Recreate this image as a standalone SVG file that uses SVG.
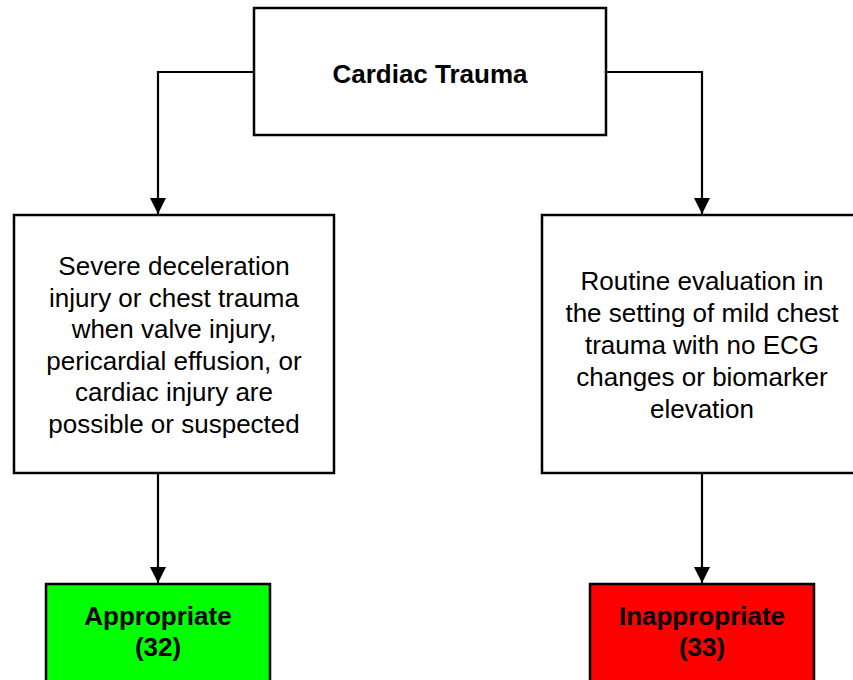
<svg xmlns="http://www.w3.org/2000/svg" width="853" height="680" viewBox="0 0 853 680">
  <defs>
    <style>
      .box { fill: #ffffff; stroke: #000000; stroke-width: 2.5; }
      .ok { fill: #00ff00; stroke: #000000; stroke-width: 2.5; }
      .no { fill: #ff0000; stroke: #000000; stroke-width: 2.5; }
      .wire { fill: none; stroke: #000000; stroke-width: 2.2; }
      .txt { font-family: "Liberation Sans", Arial, sans-serif; font-size: 26px; fill: #000000; text-anchor: middle; }
      .bold { font-weight: bold; }
    </style>
    <marker id="arrow" viewBox="0 0 16 16" refX="16" refY="8" markerWidth="16" markerHeight="16" markerUnits="userSpaceOnUse" orient="auto">
      <path d="M0,0 L16,8 L0,16 Z" fill="#000000"/>
    </marker>
  </defs>
  <rect width="853" height="680" fill="#ffffff"/>

  <!-- connectors -->
  <g id="connectors">
    <path class="wire" d="M254,72 H158 V214" marker-end="url(#arrow)"/>
    <path class="wire" d="M606,72 H702 V214" marker-end="url(#arrow)"/>
    <path class="wire" d="M158,473 V583" marker-end="url(#arrow)"/>
    <path class="wire" d="M702,473 V583" marker-end="url(#arrow)"/>
  </g>

  <!-- root -->
  <g id="cardiac-trauma">
    <rect class="box" x="254" y="8" width="352" height="127"/>
    <text class="txt bold" x="430" y="83">Cardiac Trauma</text>
  </g>

  <!-- left branch -->
  <g id="severe-injury">
    <rect class="box" x="14" y="215" width="320" height="258"/>
    <text class="txt" x="174" y="275">Severe deceleration</text>
    <text class="txt" x="174" y="306.5">injury or chest trauma</text>
    <text class="txt" x="174" y="338">when valve injury,</text>
    <text class="txt" x="174" y="369.5">pericardial effusion, or</text>
    <text class="txt" x="174" y="401">cardiac injury are</text>
    <text class="txt" x="174" y="432.5">possible or suspected</text>
  </g>

  <!-- right branch -->
  <g id="routine-evaluation">
    <rect class="box" x="542" y="215" width="320" height="258"/>
    <text class="txt" x="702" y="290">Routine evaluation in</text>
    <text class="txt" x="702" y="322">the setting of mild chest</text>
    <text class="txt" x="702" y="354">trauma with no ECG</text>
    <text class="txt" x="702" y="386">changes or biomarker</text>
    <text class="txt" x="702" y="418">elevation</text>
  </g>

  <!-- outcomes -->
  <g id="appropriate">
    <rect class="ok" x="46" y="584" width="224" height="110"/>
    <text class="txt bold" x="158" y="625">Appropriate</text>
    <text class="txt bold" x="158" y="656">(32)</text>
  </g>

  <g id="inappropriate">
    <rect class="no" x="590" y="584" width="224" height="110"/>
    <text class="txt bold" x="702" y="625">Inappropriate</text>
    <text class="txt bold" x="702" y="656">(33)</text>
  </g>
</svg>
